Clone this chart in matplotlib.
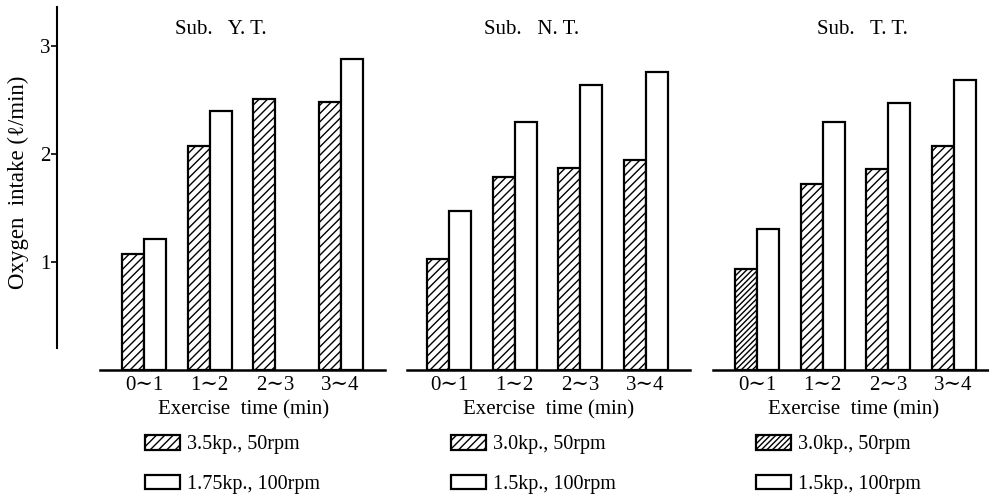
import numpy as np
import matplotlib
matplotlib.use("Agg")
import matplotlib.pyplot as plt

plt.rcParams['font.family'] = ['Liberation Serif', 'DejaVu Serif']
plt.rcParams['hatch.linewidth'] = 1.0

# oxygen intake (l/min) per minute of exercise, three subjects
periods = ["0\u223c1", "1\u223c2", "2\u223c3", "3\u223c4"]
subjects = ["Sub.   Y. T.", "Sub.   N. T.", "Sub.   T. T."]

yt_heavy = [1.07, 2.07, 2.51, 2.48]
yt_light = [1.21, 2.40, np.nan, 2.88]
nt_heavy = [1.03, 1.79, 1.87, 1.94]
nt_light = [1.47, 2.29, 2.64, 2.76]
tt_heavy = [0.93, 1.72, 1.86, 2.07]
tt_light = [1.30, 2.29, 2.47, 2.68]

heavy_labels = ["3.5kp., 50rpm", "3.0kp., 50rpm", "3.0kp., 50rpm"]
light_labels = ["1.75kp., 100rpm", "1.5kp., 100rpm", "1.5kp., 100rpm"]

W, H = 989, 495
fig = plt.figure(figsize=(W / 100, H / 100), dpi=100)

px_per_group = 65.5
px_per_unit = 108.1
base_y = 370          # baseline, pixels from top
ytop = 3.36
bw = 22 / px_per_group

# panel layout in pixels: axes left, axes right, first group centre, baseline start
panels = [
    (57, 385, 144, 100),
    (407, 690, 449, 407),
    (713, 989, 757, 713),
]
heavy = [yt_heavy, nt_heavy, tt_heavy]
light = [yt_light, nt_light, tt_light]
title_x = [221, 532, 862]
xlabel_x = [244, 549, 854]
legend_x = [145, 451, 756]

for k, (left, right, c0, b0) in enumerate(panels):
    ax = fig.add_axes([left / W, (H - base_y) / H, (right - left) / W,
                       ytop * px_per_unit / H])
    x = np.arange(len(periods))
    h1 = ax.bar(x - bw / 2, heavy[k], bw, facecolor='white', edgecolor='black',
                linewidth=1.6, hatch='////', label=heavy_labels[k])
    h2 = ax.bar(x + bw / 2, light[k], bw, facecolor='white', edgecolor='black',
                linewidth=1.6, label=light_labels[k])
    if k == 2:
        # first bar of the last subject printed with a denser hatch
        h1.patches[0].set_hatch('//////')
    ax.set_xlim(-(c0 - left) / px_per_group, (right - c0) / px_per_group)
    ax.set_ylim(0, ytop)
    for s in ['top', 'right']:
        ax.spines[s].set_visible(False)
    ax.spines['bottom'].set_linewidth(1.8)
    ax.spines['bottom'].set_bounds(-(c0 - b0) / px_per_group,
                                   (right - c0) / px_per_group)
    ax.set_xticks(x)
    ax.set_xticklabels(periods, fontsize=15)
    ax.tick_params(axis='x', length=0, pad=4)
    if k == 0:
        ax.spines['left'].set_linewidth(1.5)
        ax.spines['left'].set_bounds(0.2, ytop)
        ax.set_yticks([1, 2, 3])
        ax.tick_params(axis='y', length=4, width=1.2, labelsize=15, pad=1)
    else:
        ax.spines['left'].set_visible(False)
        ax.set_yticks([])

    fig.text(title_x[k] / W, 1 - 30 / H, subjects[k], ha='center',
             va='center', fontsize=15)
    fig.text(xlabel_x[k] / W, 1 - 410 / H, "Exercise  time (min)",
             ha='center', va='center', fontsize=15)
    fig.legend(handles=[h1, h2], loc='upper left',
               bbox_to_anchor=(legend_x[k] / W, 1 - 435 / H),
               frameon=False, fontsize=14.5, borderpad=0, borderaxespad=0,
               handlelength=1.74, handleheight=0.75, handletextpad=0.35,
               labelspacing=1.0)

fig.text(18 / W, 1 - 182 / H, "Oxygen  intake (\u2113/min)", rotation=90,
         ha='center', va='center', fontsize=16.5)

fig.savefig("out.png", dpi=100)
